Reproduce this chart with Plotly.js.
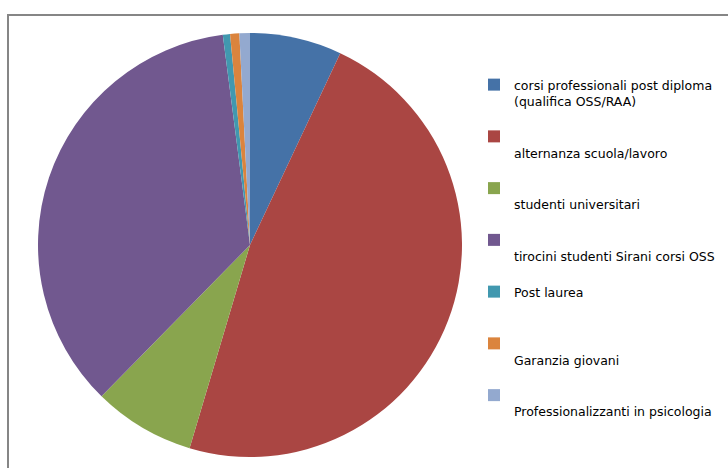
<!DOCTYPE html>
<html>
<head>
<meta charset="utf-8">
<script src="https://cdn.plot.ly/plotly-3.0.1.min.js"></script>
<style>html,body{margin:0;padding:0;background:#fff;}#chart{width:728px;height:468px;}</style>
</head>
<body>
<div id="chart"></div>
<script>
const categories = [
  "corsi professionali post diploma<br>(qualifica OSS/RAA)<br> ",
  " <br>alternanza scuola/lavoro<br> ",
  " <br>studenti universitari<br> ",
  " <br>tirocini studenti Sirani corsi OSS<br> ",
  "Post laurea<br> <br> ",
  " <br>Garanzia giovani<br> ",
  " <br>Professionalizzanti in psicologia<br> "
];
const values = [7.0, 47.6, 7.75, 35.6, 0.55, 0.7, 0.8];
const colors = ["#4572A7", "#AA4643", "#89A54E", "#71588F", "#4198AF", "#DB843D", "#93A9CF"];

const trace = {
  type: "pie",
  labels: categories,
  values: values,
  sort: false,
  direction: "clockwise",
  rotation: 0,
  textinfo: "none",
  hoverinfo: "label+percent",
  marker: {colors: colors, line: {width: 0}},
  domain: {x: [38/728, 462/728], y: [11/468, 435/468]}
};

const layout = {
  width: 728, height: 468,
  margin: {l: 0, r: 0, t: 0, b: 0},
  paper_bgcolor: "#fff",
  showlegend: true,
  font: {family: "'DejaVu Sans', sans-serif", size: 12.5, color: "#000"},
  legend: {
    x: 474/728, xanchor: "left",
    y: (468-70)/468, yanchor: "top",
    valign: "top",
    font: {family: "'DejaVu Sans', sans-serif", size: 12.5, color: "#000"},
    bgcolor: "rgba(0,0,0,0)"
  },
  shapes: [{
    type: "rect", xref: "paper", yref: "paper",
    x0: 8/728, x1: 1.2, y0: (468-15)/468, y1: -0.2,
    line: {color: "#868686", width: 2}, fillcolor: "rgba(0,0,0,0)", layer: "below"
  }]
};

Plotly.newPlot("chart", [trace], layout, {displayModeBar: false, staticPlot: true});
</script>
</body>
</html>
